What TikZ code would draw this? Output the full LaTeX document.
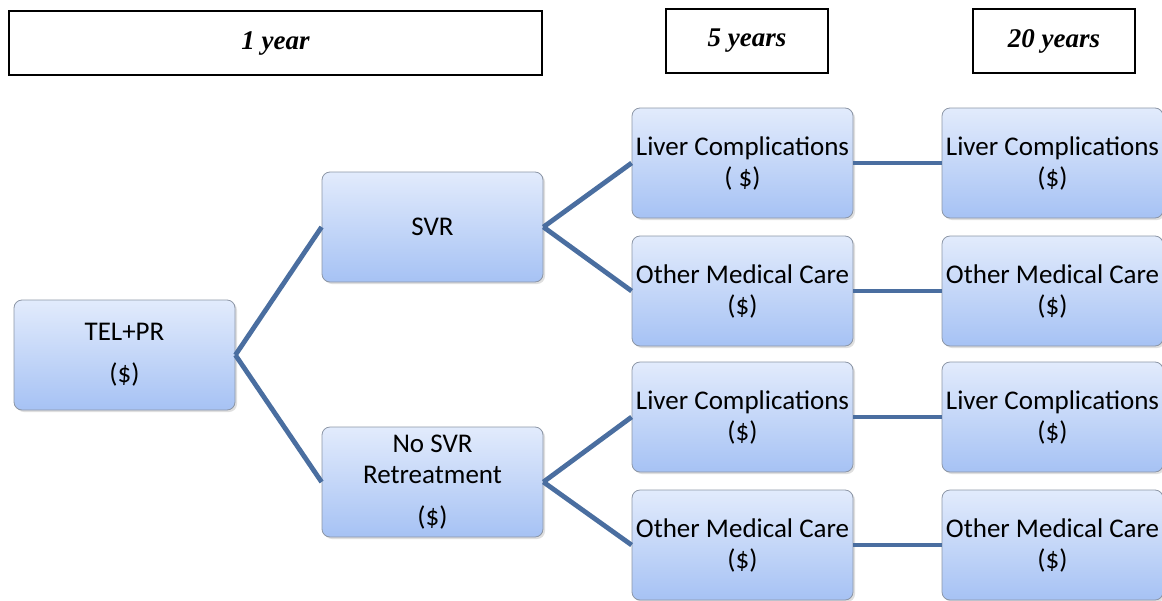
\documentclass[tikz,border=0pt]{standalone}
\usepackage{fontspec}
\setmainfont{Carlito}
\newfontfamily\headfont{Liberation Serif}
\usepackage{xcolor}
\usetikzlibrary{shadows}

\definecolor{boxtop}{HTML}{E2EBFC}
\definecolor{boxbot}{HTML}{A6C2F4}
\definecolor{boxline}{HTML}{8C96A6}
\definecolor{linkblue}{HTML}{4A6EA0}

\tikzset{
	state/.style={draw=boxline,line width=0.8pt,rounded corners=8pt,
		top color=boxtop,bottom color=boxbot,
		minimum width=221pt,minimum height=110pt,inner sep=0pt,align=center,
		font=\fontsize{27}{31}\selectfont,
		drop shadow={shadow xshift=2pt,shadow yshift=-2pt,opacity=0.25}},
	period/.style={draw=black,line width=1.2pt,minimum height=64pt,inner sep=0pt,
		font=\headfont\bfseries\itshape\fontsize{27}{30}\selectfont},
	link/.style={draw=linkblue,line width=4.8pt}
}

\begin{document}
\begin{tikzpicture}[x=1pt,y=-1pt]
	\useasboundingbox (0,0) rectangle (1162,600);
	% time periods
	\node[period,minimum width=533pt] (P1) at (275.5,43) {1 year};
	\node[period,minimum width=162pt] (P5) at (747,41) {5 years};
	\node[period,minimum width=162pt] (P20) at (1054,41) {20 years};
	% nodes
	\node[state] (T) at (124.5,355) {TEL+PR\\[11pt](\$)};
	\node[state] (S) at (432.5,227) {SVR};
	\node[state] (N) at (432.5,482) {No SVR\\Retreatment\\[11pt](\$)};
	\node[state] (SL) at (742.5,163) {Liver Complications\\( \$)};
	\node[state] (SO) at (742.5,291) {Other Medical Care\\(\$)};
	\node[state] (NL) at (742.5,417) {Liver Complications\\(\$)};
	\node[state] (NO) at (742.5,545) {Other Medical Care\\(\$)};
	\node[state] (SL') at (1052.5,163) {Liver Complications\\(\$)};
	\node[state] (SO') at (1052.5,291) {Other Medical Care\\(\$)};
	\node[state] (NL') at (1052.5,417) {Liver Complications\\(\$)};
	\node[state] (NO') at (1052.5,545) {Other Medical Care\\(\$)};
	%
	\path[link]
	% branches
	(T.east) edge (S.west)
	(T.east) edge (N.west)
	(S.east) edge (SL.west)
	(S.east) edge (SO.west)
	(N.east) edge (NL.west)
	(N.east) edge (NO.west)
	% horizontal links
	(SL) edge (SL')
	(SO) edge (SO')
	(NL) edge (NL')
	(NO) edge (NO');
\end{tikzpicture}
\end{document}
